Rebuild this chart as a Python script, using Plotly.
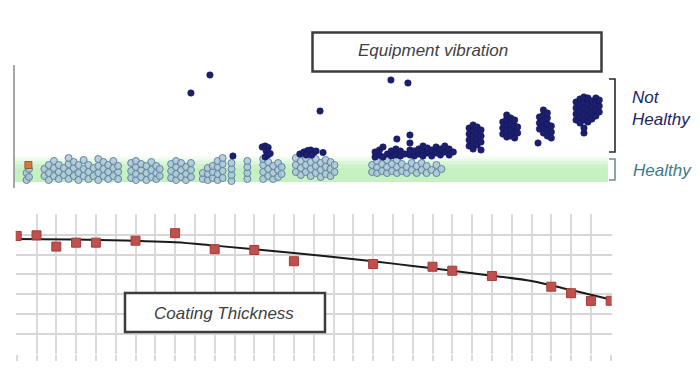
import plotly.graph_objects as go

# ---------------- DATA ----------------
# Top panel: equipment vibration (x = time index, y = vibration level)
light_A = [(0.50, [0.8, 1.5]), (0.62, [1.1, 1.9])]
light_B = [(1.40, [1.2, 1.9]), (1.62, [0.8, 1.5, 2.3]), (1.88, [1.2, 2.0, 2.7]),
           (2.12, [0.9, 1.6, 2.3]), (2.38, [1.3, 2.0]), (2.62, [0.9, 1.6, 2.4, 3.0]),
           (2.88, [1.2, 2.0, 2.6]), (3.12, [0.8, 1.5, 2.3]), (3.38, [1.2, 1.9, 2.8]),
           (3.62, [0.9, 1.6, 2.3]), (3.88, [1.2, 2.0]), (4.12, [0.8, 1.5, 2.2, 2.9]),
           (4.38, [1.2, 1.9, 2.6]), (4.62, [0.9, 1.6, 2.3]), (4.88, [1.2, 2.0, 2.7]),
           (5.12, [0.9, 1.6, 2.2])]
light_C = [(5.78, [1.0, 1.7, 2.5]), (6.02, [0.8, 1.4, 2.1, 2.7]), (6.28, [1.1, 1.8, 2.4]),
           (6.55, [0.8, 1.5, 2.2]), (6.80, [1.1, 1.8, 2.6]), (7.05, [0.9, 1.5, 2.2]),
           (7.22, [1.2, 1.9])]
light_D = [(7.80, [1.0, 1.7, 2.4]), (8.05, [0.8, 1.4, 2.1, 2.7]), (8.30, [1.1, 1.8, 2.5]),
           (8.55, [0.8, 1.4, 2.1]), (8.80, [1.1, 1.8, 2.5])]
light_E = [(9.40, [0.9, 1.5]), (9.65, [0.8, 1.4, 2.0]), (9.90, [1.0, 1.6, 2.2]),
           (10.15, [0.8, 1.4, 2.1, 2.7]), (10.40, [1.0, 1.7, 2.4, 3.0]),
           (10.85, [0.7, 1.3, 1.9, 2.5]), (11.65, [0.9, 1.5, 2.1, 2.7])]
light_G = [(12.45, [0.9, 1.6, 2.3, 2.9]), (12.70, [1.2, 1.9, 2.6]), (12.95, [0.9, 1.5, 2.2]),
           (13.20, [1.1, 1.8, 2.5]), (13.38, [1.4, 2.1])]
light_H = [(14.10, [1.6, 2.3, 3.0]), (14.35, [1.3, 2.0, 2.7]), (14.60, [1.6, 2.3, 3.0]),
           (14.85, [1.2, 1.9, 2.6]), (15.10, [1.5, 2.2, 2.9]), (15.35, [1.1, 1.8, 2.5]),
           (15.60, [1.4, 2.1, 2.8]), (15.85, [1.2, 1.9, 2.6]), (16.05, [1.6, 2.3])]
light_I = [(17.95, [1.6, 2.3]), (18.20, [1.5, 2.1, 2.7]), (18.45, [1.7, 2.4]),
           (18.70, [1.5, 2.1, 2.8]), (18.95, [1.7, 2.4]), (19.20, [1.5, 2.1, 2.8]),
           (19.45, [1.7, 2.4]), (19.70, [1.5, 2.1]), (19.95, [1.8, 2.5]),
           (20.20, [1.5, 2.2]), (20.45, [1.8, 2.5]), (20.70, [1.5, 2.2]),
           (20.95, [1.8]), (21.20, [1.5, 2.3]), (21.45, [1.9])]

dark_outliers = [(8.80, [9.5]), (9.76, [11.3]), (15.32, [7.7]), (18.90, [10.8]),
                 (19.76, [10.5]), (10.92, [3.2])]
dark_G = [(12.40, [4.1]), (12.55, [4.2, 3.1]), (12.70, [4.05]), (12.60, [3.7]),
          (12.68, [3.3]), (12.80, [3.45])]
dark_H = [(14.30, [3.4]), (14.50, [3.6]), (14.70, [3.75]), (14.85, [3.8]),
          (15.00, [3.55]), (15.12, [3.7]), (14.62, [3.3]), (14.90, [3.3]), (15.47, [3.55])]
dark_I = [(18.10, [3.1, 3.6]), (18.32, [3.3, 3.8]), (18.50, [3.1, 4.1]), (18.72, [3.4]),
          (18.92, [3.2, 3.7]), (19.15, [3.3, 3.9]), (19.20, [4.9]), (19.38, [3.2, 3.7]),
          (19.60, [3.4]), (19.86, [3.3, 3.8, 4.5, 5.3]), (20.08, [3.2, 3.7]),
          (20.30, [3.4, 3.9]), (20.52, [3.2, 3.8, 4.2]), (20.74, [3.5, 4.0]),
          (20.96, [3.2, 3.8]), (21.18, [3.5, 4.1]), (21.40, [3.3, 3.9]),
          (21.62, [3.6, 4.2]), (21.84, [3.3, 3.9]), (22.05, [3.6])]
dark_J = [(22.85, [4.2, 4.8, 5.4, 6.0]), (23.05, [3.9, 4.5, 5.1, 5.7, 6.3]),
          (23.25, [4.3, 4.9, 5.5, 6.1]), (23.45, [3.8, 4.6, 5.2, 5.8])]
dark_K = [(24.55, [5.4, 6.0, 6.6]), (24.75, [5.1, 5.7, 6.3, 6.9, 7.3]),
          (24.95, [5.2, 5.8, 6.4, 7.0]), (25.15, [5.0, 5.6, 6.2, 6.8]), (25.30, [5.5, 6.1])]
dark_L = [(26.33, [4.5]), (26.40, [5.9, 6.5, 7.1]), (26.60, [5.5, 6.1, 6.7, 7.3, 7.8]),
          (26.80, [5.2, 5.8, 6.4, 7.0, 7.5]), (27.00, [5.0, 5.6, 6.2])]
dark_M = [(28.25, [6.8, 7.4, 8.0, 8.6]), (28.45, [6.5, 7.1, 7.7, 8.3, 8.9]),
          (28.65, [5.5, 6.0, 6.8, 7.4, 8.0, 8.6, 9.1]), (28.85, [6.6, 7.2, 7.8, 8.4, 9.0]),
          (29.05, [6.9, 7.5, 8.1, 8.7]), (29.25, [7.2, 7.8, 8.4, 9.0]), (29.42, [7.6, 8.2, 8.8])]

start_marker_x = [0.59]
start_marker_y = [2.3]

# Bottom panel: coating thickness
thick_x = [0, 1, 2, 3, 4, 6, 8, 10, 12, 14, 18, 21, 22, 24, 27, 28, 29, 30]
thick_y = [5.94, 5.97, 5.40, 5.60, 5.60, 5.70, 6.08, 5.27, 5.23, 4.66,
           4.52, 4.38, 4.18, 3.91, 3.37, 3.04, 2.65, 2.66]
trend_x = [0, 4, 8, 10, 12, 14, 16, 18, 20, 22, 24, 26, 28, 30]
trend_y = [5.78, 5.74, 5.62, 5.45, 5.27, 5.08, 4.88, 4.66, 4.42, 4.18, 3.93, 3.66, 3.20, 2.72]


def flatten(*groups):
    xs, ys = [], []
    for g in groups:
        for x, yl in g:
            for y in yl:
                xs.append(x)
                ys.append(y)
    return xs, ys


W, H = 700, 369


def px(x):
    return x / W


def py(y):
    return 1 - y / H


lx, ly = flatten(light_A, light_B, light_C, light_D, light_E, light_G, light_H, light_I)
dx, dy = flatten(dark_outliers, dark_G, dark_H, dark_I, dark_J, dark_K, dark_L, dark_M)

fig = go.Figure()

fig.add_trace(go.Scatter(
    x=lx, y=ly, mode="markers", xaxis="x", yaxis="y",
    marker=dict(size=7, color="rgba(172,195,214,0.8)",
                line=dict(color="#5f86a6", width=1)),
    showlegend=False, hoverinfo="skip"))
fig.add_trace(go.Scatter(
    x=start_marker_x, y=start_marker_y, mode="markers", xaxis="x", yaxis="y",
    marker=dict(size=7, symbol="square", color="#d07a3e",
                line=dict(color="#9a5a30", width=1)),
    showlegend=False, hoverinfo="skip"))
fig.add_trace(go.Scatter(
    x=dx, y=dy, mode="markers", xaxis="x", yaxis="y",
    marker=dict(size=6.5, color="#1b1f6e", line=dict(color="#14185a", width=0.5)),
    showlegend=False, hoverinfo="skip"))

fig.add_trace(go.Scatter(
    x=trend_x, y=trend_y, mode="lines", xaxis="x2", yaxis="y2",
    line=dict(color="#1a1a1a", width=2, shape="spline"),
    showlegend=False, hoverinfo="skip"))
fig.add_trace(go.Scatter(
    x=thick_x, y=thick_y, mode="markers", xaxis="x2", yaxis="y2",
    marker=dict(size=9, symbol="square", color="#c0504d",
                line=dict(color="#a33c3a", width=1)),
    showlegend=False, hoverinfo="skip"))

# axes geometry (pixel based layout of the panels)
unit_x = 19.8
unit_y2 = 19.75
pad = 0.05

shapes = []
# healthy band with soft gradient (stacked strips)
band_strips = [(0.6, 2.0, 0.5), (2.0, 2.4, 0.42), (2.4, 2.7, 0.3), (2.7, 2.95, 0.18), (2.95, 3.2, 0.08)]
for y0, y1, op in band_strips:
    shapes.append(dict(type="rect", xref="x", yref="y", x0=-0.086, x1=29.86, y0=y0, y1=y1,
                       fillcolor="rgba(140,225,130,%.2f)" % op, line=dict(width=0), layer="below"))

# brackets
def bracket(x_left, x_right, y_top, y_bot, color):
    path = "M %f %f L %f %f L %f %f L %f %f" % (px(x_left), py(y_top), px(x_right), py(y_top),
                                                px(x_right), py(y_bot), px(x_left), py(y_bot))
    return dict(type="path", xref="paper", yref="paper", path=path,
                line=dict(color=color, width=1.6))

shapes.append(bracket(609, 615, 79, 152, "#2a2a2a"))
shapes.append(bracket(609, 615, 159, 180, "#6d8d98"))

# title boxes
shapes.append(dict(type="rect", xref="paper", yref="paper", x0=px(312.5), x1=px(601.5),
                   y0=py(71.5), y1=py(32.5), fillcolor="white",
                   line=dict(color="#3c3c3c", width=2.5), layer="above"))
shapes.append(dict(type="rect", xref="paper", yref="paper", x0=px(125), x1=px(325),
                   y0=py(332), y1=py(293), fillcolor="white",
                   line=dict(color="#3c3c3c", width=2.5), layer="above"))

annotations = [
    dict(text="Equipment vibration", x=px(356), y=py(51), xref="paper", yref="paper",
         xanchor="left", yanchor="middle", showarrow=False,
         font=dict(family="Liberation Sans, Arial", size=17, color="#404040")),
    dict(text="Coating Thickness", x=px(152), y=py(313), xref="paper", yref="paper",
         xanchor="left", yanchor="middle", showarrow=False,
         font=dict(family="Liberation Sans, Arial", size=17, color="#404040")),
    dict(text="Not<br>Healthy", x=px(630), y=py(108), xref="paper", yref="paper",
         xanchor="left", yanchor="middle", align="left", showarrow=False,
         font=dict(family="Liberation Sans, Arial", size=17, color="#1c2463")),
    dict(text="Healthy", x=px(631), y=py(170), xref="paper", yref="paper",
         xanchor="left", yanchor="middle", showarrow=False,
         font=dict(family="Liberation Sans, Arial", size=17, color="#3d7a8c")),
]
for a in annotations:
    a["text"] = "<i>" + a["text"].replace("<br>", "</i><br><i>") + "</i>"

fig.update_layout(
    width=W, height=H, margin=dict(l=0, r=0, t=0, b=0),
    paper_bgcolor="white", plot_bgcolor="rgba(0,0,0,0)",
    xaxis=dict(domain=[px(15), px(610.7)], range=[-0.086, 30], visible=False),
    yaxis=dict(domain=[py(188), py(65)], range=[0, 12.3], showgrid=False, zeroline=False,
               showticklabels=False, ticks="", showline=True, linecolor="#a6a6a6", linewidth=2),
    xaxis2=dict(domain=[px(16.7 - pad * unit_x), px(610.7 + pad * unit_x)],
                range=[-pad, 30 + pad], anchor="y2", tickmode="linear", tick0=0, dtick=1,
                showticklabels=False, ticks="outside", ticklen=6, tickcolor="#dadada",
                tickwidth=1.8, showgrid=True, gridcolor="#dadada", gridwidth=1.8,
                zeroline=False, showline=False),
    yaxis2=dict(domain=[py(353.3 + pad * unit_y2), py(215 - pad * unit_y2)],
                range=[-pad, 7 + pad], anchor="x2", tickmode="linear", tick0=0, dtick=1,
                showticklabels=False, ticks="", showgrid=True, gridcolor="#d6d6d6",
                gridwidth=2, zeroline=False, showline=False),
    shapes=shapes, annotations=annotations,
)

fig.write_html("out.html", config={"displayModeBar": False},
               post_script="document.body.style.margin='0';document.body.style.overflow='hidden';")
